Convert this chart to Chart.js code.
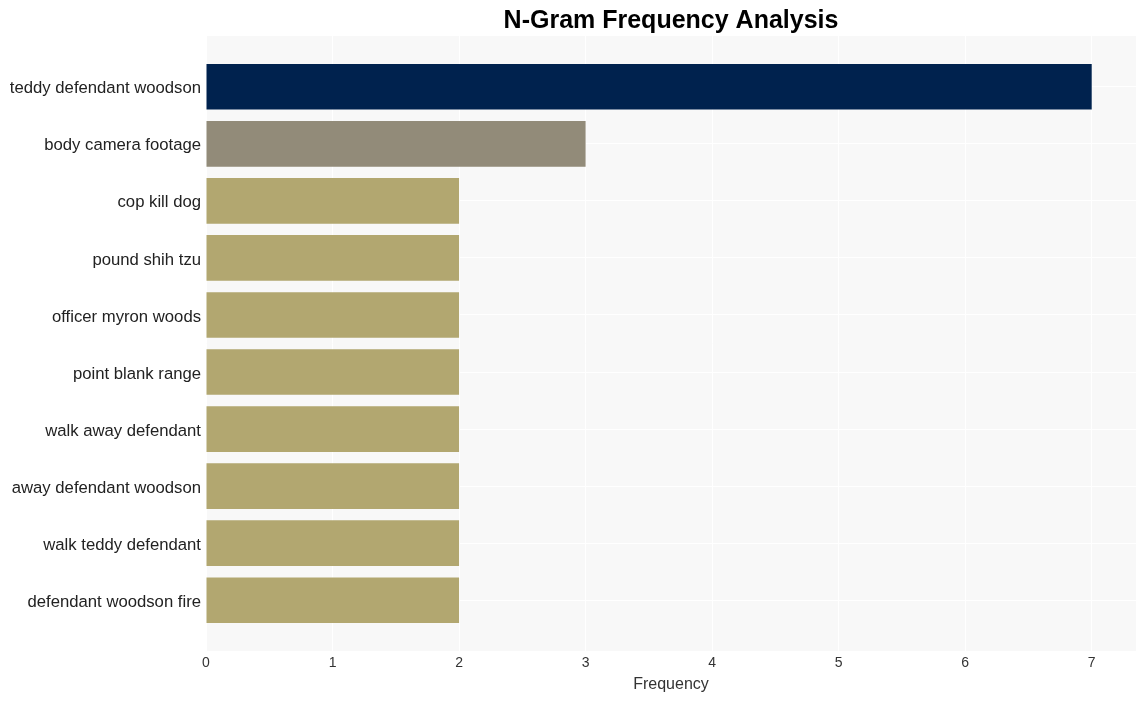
<!DOCTYPE html>
<html>
<head>
<meta charset="utf-8">
<script src="https://cdn.jsdelivr.net/npm/chart.js@4"></script>
<style>
html,body{margin:0;padding:0;background:#fff;}
#wrap{width:1145px;height:701px;}
</style>
</head>
<body>
<div id="wrap"><canvas id="c" width="1145" height="701"></canvas></div>
<script>
const categories = [
  "teddy defendant woodson",
  "body camera footage",
  "cop kill dog",
  "pound shih tzu",
  "officer myron woods",
  "point blank range",
  "walk away defendant",
  "away defendant woodson",
  "walk teddy defendant",
  "defendant woodson fire"
];
const frequencies = [7, 3, 2, 2, 2, 2, 2, 2, 2, 2];
const barColors = ["#00224e", "#928b79", "#b2a770", "#b2a770", "#b2a770", "#b2a770", "#b2a770", "#b2a770", "#b2a770", "#b2a770"];
const xTicks = [0, 1, 2, 3, 4, 5, 6, 7];
const chartTitle = "N-Gram Frequency Analysis";
const xTitle = "Frequency";

const FONT = "'Liberation Sans', Arial, sans-serif";

const bgPlugin = {
  id: 'plotBg',
  beforeDraw(chart) {
    const a = chart.chartArea;
    const ctx = chart.ctx;
    ctx.save();
    ctx.fillStyle = '#f8f8f8';
    ctx.fillRect(a.left, a.top, a.right - a.left, a.bottom - a.top);
    ctx.restore();
  }
};

const titlePlugin = {
  id: 'plotTitle',
  afterDraw(chart) {
    const a = chart.chartArea;
    const ctx = chart.ctx;
    ctx.save();
    ctx.fillStyle = '#000';
    ctx.font = "bold 25px " + FONT;
    ctx.textAlign = 'center';
    ctx.textBaseline = 'middle';
    ctx.fillText(chartTitle, (a.left + a.right) / 2, 21.5);
    ctx.restore();
  }
};

new Chart(document.getElementById('c'), {
  type: 'bar',
  data: {
    datasets: [{
      data: categories.map((c, i) => ({x: frequencies[i], y: i})),
      backgroundColor: barColors,
      borderWidth: 0,
      barPercentage: 0.8,
      categoryPercentage: 1.0
    }]
  },
  options: {
    indexAxis: 'y',
    responsive: false,
    animation: false,
    layout: {padding: {left: 0, right: 9, top: 36, bottom: 0}},
    plugins: {
      legend: {display: false},
      tooltip: {enabled: false},
      title: {display: false}
    },
    scales: {
      x: {
        type: 'linear',
        min: 0,
        max: 7.35,
        afterBuildTicks(s) { s.ticks = xTicks.map(v => ({value: v})); },
        afterFit(s) { s.height = 50; },
        grid: {color: '#ffffff', lineWidth: 1, drawTicks: false},
        border: {display: false},
        ticks: {color: '#333', font: {family: FONT, size: 14}, padding: 4},
        title: {display: true, text: xTitle, color: '#333', font: {family: FONT, size: 16}, padding: {top: 0, bottom: 6.5}}
      },
      y: {
        type: 'linear',
        reverse: true,
        offset: false,
        min: -0.89,
        max: 9.89,
        afterBuildTicks(s) { s.ticks = categories.map((c, i) => ({value: i})); },
        afterFit(s) { s.width = 206; },
        grid: {color: '#ffffff', lineWidth: 1, drawTicks: false, offset: false},
        border: {display: false},
        ticks: {
          color: '#222',
          font: {family: FONT, size: 16.7},
          padding: 5,
          labelOffset: 2,
          autoSkip: false,
          callback: (v) => categories[v]
        }
      }
    }
  },
  plugins: [bgPlugin, titlePlugin]
});
</script>
</body>
</html>
